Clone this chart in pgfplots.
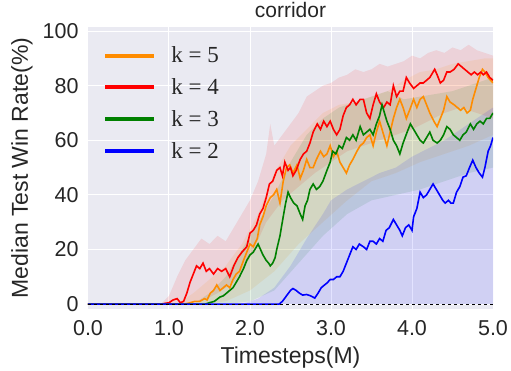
\documentclass[border=0pt]{standalone}
\usepackage{fontspec}
\setmainfont{Liberation Sans}
\newfontfamily\legfont{Liberation Serif}
\usepackage{pgfplots}
\pgfplotsset{compat=1.18}
\definecolor{bgc}{RGB}{234,234,242}
\definecolor{dorange}{RGB}{255,140,0}
\definecolor{dgreen}{RGB}{0,128,0}
\definecolor{tcol}{RGB}{38,38,38}
\begin{document}
\begin{tikzpicture}
\begin{axis}[
  scale only axis, width=405pt, height=282pt,
  xmin=0, xmax=5, ymin=-1.8, ymax=101.5,
  axis background/.style={fill=bgc},
  axis line style={draw=none},
  major tick length=0pt,
  grid=major, grid style={white, line width=1pt},
  xtick={0,1,2,3,4,5}, xticklabels={0.0,1.0,2.0,3.0,4.0,5.0},
  ytick={0,20,40,60,80,100}, yticklabels={0,20,40,60,80,100},
  tick label style={font=\fontsize{21.5}{25}\selectfont, text=tcol},
  xticklabel style={yshift=-8pt},
  yticklabel style={xshift=-6pt},
  xlabel={Timesteps(M)}, ylabel={Median Test Win Rate(\%)},
  xlabel style={at={(axis description cs:0.5,-0.172)}, anchor=center, font=\fontsize{23}{27}\selectfont, text=tcol},
  ylabel style={at={(axis description cs:-0.163,0.5)}, anchor=center, font=\fontsize{23}{27}\selectfont, text=tcol},
  title={corridor}, title style={font=\fontsize{21}{25}\selectfont, text=tcol, yshift=0pt},
  legend style={draw=none, fill=none, at={(axis description cs:0.03,0.944)}, anchor=north west,
    font=\legfont\fontsize{23}{27}\selectfont, row sep=10.3pt, column sep=13pt, text=tcol},
  legend cell align=left,
  legend image code/.code={\draw[#1, line width=4pt] (0pt,0pt) -- (49pt,0pt);},
]
\coordinate (ll) at (rel axis cs:0,0);
\coordinate (ur) at (rel axis cs:1,1);
% bands
\addplot[forget plot, draw=none, fill=red, fill opacity=0.1] coordinates {
(0.9,0)(1.0,3)(1.1,10)(1.2,16)(1.3,20)(1.4,24)(1.5,22)(1.6,25)(1.7,23)(1.8,28)(1.9,33)(2.0,38)(2.1,45)(2.2,55)(2.25,66)(2.3,58)(2.4,62)(2.5,66)(2.6,70)(2.7,76)(2.8,78)(2.9,80)(3.0,81)(3.1,83)(3.2,84)(3.3,86)(3.4,85)(3.5,86)(3.6,88)(3.7,87)(3.8,88)(3.9,89)(4.0,91)(4.1,90)(4.2,92)(4.3,93)(4.4,92)(4.5,94)(4.6,93)(4.7,95)(4.8,93)(4.9,92)(5.0,91)
(5.0,68)(4.8,70)(4.6,72)(4.4,70)(4.2,67)(4.0,64)(3.8,62)(3.6,60)(3.4,58)(3.2,56)(3.0,52)(2.8,48)(2.6,43)(2.4,38)(2.2,30)(2.0,17)(1.8,8)(1.6,4)(1.4,1)(1.2,0)(1.0,0)(0.9,0)} -- cycle;
\addplot[forget plot, draw=none, fill=dorange, fill opacity=0.1] coordinates {
(1.1,0)(1.3,4)(1.5,9)(1.7,14)(1.9,22)(2.1,33)(2.3,48)(2.5,58)(2.7,64)(2.9,70)(3.1,73)(3.3,74)(3.5,76)(3.7,78)(3.9,82)(4.1,85)(4.3,86)(4.5,88)(4.7,89)(4.9,90)(5.0,90)
(5.0,62)(4.7,58)(4.4,55)(4.1,52)(3.8,48)(3.5,45)(3.2,38)(2.9,30)(2.6,22)(2.3,12)(2.0,5)(1.7,1)(1.4,0)(1.1,0)} -- cycle;
\addplot[forget plot, draw=none, fill=dgreen, fill opacity=0.1] coordinates {
(1.3,0)(1.5,4)(1.7,10)(1.9,20)(2.1,30)(2.3,40)(2.5,52)(2.7,62)(2.9,68)(3.1,72)(3.3,74)(3.5,76)(3.7,78)(3.9,75)(4.1,76)(4.3,77)(4.5,78)(4.7,80)(4.9,82)(5.0,83)
(5.0,50)(4.7,48)(4.4,45)(4.1,42)(3.8,40)(3.5,38)(3.2,33)(2.9,25)(2.6,15)(2.3,5)(2.0,1)(1.7,0)(1.3,0)} -- cycle;
\addplot[forget plot, draw=none, fill=blue, fill opacity=0.11] coordinates {
(1.9,0)(2.1,2)(2.3,6)(2.5,14)(2.7,24)(2.9,33)(3.0,38)(3.2,42)(3.4,45)(3.6,48)(3.8,50)(4.0,54)(4.2,57)(4.4,60)(4.6,64)(4.8,68)(5.0,72)(5.0,0)} -- cycle;
% medians
\addplot[dorange, line width=1.6pt] coordinates {
(0,0)(1.2,0)(1.26,0.5)(1.32,1)(1.38,1)(1.44,2)(1.47,1.5)(1.51,4)(1.55,5)(1.59,7)(1.63,5)(1.67,6)(1.71,7)(1.75,6)(1.79,9)(1.83,11)(1.87,12)(1.92,16)(1.96,19)(2.00,22)(2.04,21)(2.09,24)(2.12,29)(2.16,32)(2.20,36)(2.25,39)(2.29,40)(2.33,42)(2.37,37)(2.41,45)(2.45,50)(2.49,51)(2.53,48)(2.58,51)(2.62,46)(2.66,49)(2.70,53)(2.74,50)(2.78,50)(2.82,53)(2.87,56)(2.91,54)(2.95,55)(2.99,58)(3.03,54)(3.07,56)(3.11,52)(3.15,50)(3.19,48)(3.23,51)(3.27,53)(3.32,56)(3.36,58)(3.40,59)(3.44,61)(3.48,62)(3.52,58)(3.56,63)(3.60,67)(3.65,62)(3.69,58)(3.73,63)(3.77,68)(3.81,72)(3.85,75)(3.89,72)(3.93,68)(3.97,71)(4.02,75)(4.06,72)(4.10,75)(4.14,76)(4.18,73)(4.22,70)(4.27,67)(4.31,65)(4.35,68)(4.39,71)(4.43,76)(4.47,74)(4.52,73)(4.56,72)(4.60,71)(4.64,72)(4.68,70)(4.72,71)(4.75,75)(4.79,79)(4.83,83)(4.87,86)(4.90,85)(4.94,83)(4.97,82)(5.0,81)};
\addlegendentry{k = 5}
\addplot[red, line width=1.6pt] coordinates {
(0,0)(0.9,0)(1.0,0.5)(1.05,1.5)(1.1,2)(1.14,0.5)(1.18,1)(1.22,4)(1.26,8)(1.30,11)(1.34,14)(1.38,13)(1.42,15)(1.46,12)(1.50,13)(1.55,11)(1.60,13)(1.65,12)(1.70,13)(1.75,10)(1.80,14)(1.85,17)(1.90,19)(1.96,21)(2.00,26)(2.04,27)(2.08,29)(2.12,33)(2.16,35)(2.20,39)(2.24,44)(2.28,45)(2.33,49)(2.37,50)(2.40,47)(2.43,52)(2.47,49)(2.50,50)(2.53,47)(2.57,49)(2.62,53)(2.66,55)(2.70,56)(2.74,59)(2.78,63)(2.83,66)(2.87,64)(2.91,67)(2.95,65)(2.99,67)(3.03,64)(3.07,62)(3.11,64)(3.15,69)(3.19,72)(3.23,73)(3.27,75)(3.31,73)(3.36,75)(3.40,75)(3.44,70)(3.48,68)(3.52,73)(3.56,77)(3.60,74)(3.65,72)(3.69,74)(3.73,73)(3.77,80)(3.81,76)(3.85,78)(3.89,78)(3.93,83)(3.97,81)(4.02,79)(4.06,80)(4.10,81)(4.14,81)(4.18,82)(4.22,83)(4.28,86)(4.31,84)(4.35,81)(4.39,82)(4.43,85)(4.47,85)(4.52,86)(4.57,88)(4.61,87)(4.65,86)(4.69,85)(4.73,84)(4.77,85)(4.81,84)(4.85,85)(4.88,84)(4.92,85)(4.96,83)(5.0,82)};
\addlegendentry{k = 4}
\addplot[dgreen, line width=1.6pt] coordinates {
(0,0)(1.45,0)(1.5,0.5)(1.56,1)(1.63,2.6)(1.67,3)(1.71,4)(1.75,5)(1.79,6)(1.83,8)(1.87,10)(1.92,13)(1.96,16)(2.00,18)(2.04,19)(2.08,21)(2.10,22)(2.13,20)(2.16,18)(2.20,16)(2.23,15)(2.25,14)(2.28,15)(2.31,17)(2.33,20)(2.37,25)(2.41,32)(2.44,37)(2.47,41)(2.50,39)(2.54,37)(2.58,36)(2.62,33)(2.65,31)(2.68,36)(2.71,38)(2.74,42)(2.78,44)(2.82,42)(2.86,43)(2.90,45)(2.95,49)(2.99,52)(3.02,56)(3.06,55)(3.10,58)(3.14,57)(3.19,61)(3.23,60)(3.27,62)(3.31,60)(3.36,65)(3.40,62)(3.44,63)(3.48,64)(3.52,62)(3.56,66)(3.60,69)(3.63,73)(3.66,70)(3.69,67)(3.73,64)(3.77,60)(3.81,58)(3.85,55)(3.89,59)(3.94,63)(3.98,66)(4.02,64)(4.06,62)(4.10,60)(4.14,59)(4.18,61)(4.22,63)(4.26,60)(4.31,59)(4.35,60)(4.39,62)(4.43,65)(4.47,64)(4.51,62)(4.55,61)(4.59,60)(4.63,62)(4.67,63)(4.72,66)(4.76,64)(4.80,66)(4.84,67)(4.88,66)(4.92,68)(4.96,68)(5.0,70)};
\addlegendentry{k = 3}
\addplot[blue, line width=1.6pt] coordinates {
(0,0)(2.36,0)(2.40,1)(2.45,3)(2.50,5)(2.53,5.7)(2.57,5)(2.61,4)(2.65,3.3)(2.70,3.5)(2.75,3)(2.80,2.2)(2.84,4)(2.88,6)(2.92,7)(2.95,7.7)(2.99,9)(3.03,9)(3.07,10)(3.11,10)(3.15,12)(3.19,15)(3.23,18)(3.27,21)(3.31,20)(3.35,22)(3.40,21)(3.44,20)(3.48,23)(3.52,23)(3.56,22)(3.60,24)(3.64,23)(3.68,27)(3.72,28)(3.77,31)(3.81,29)(3.85,27)(3.88,25)(3.92,28)(3.96,29)(4.00,27)(4.02,32)(4.06,35)(4.10,41)(4.14,39)(4.18,40)(4.22,42)(4.26,44)(4.30,42)(4.34,40)(4.38,38)(4.41,37)(4.45,38)(4.48,37)(4.51,37)(4.55,41)(4.59,43)(4.63,46.5)(4.67,47)(4.71,50)(4.75,52.7)(4.79,50)(4.83,48)(4.87,46.5)(4.90,50)(4.94,56)(4.97,58)(5.0,61)};
\addlegendentry{k = 2}
\addplot[forget plot, black, dashed, line width=0.7pt] coordinates {(0,0)(5,0)};
\end{axis}
\pgfresetboundingbox
\path ([shift={(-88pt,-62pt)}]ll) rectangle ([shift={(18pt,27pt)}]ur);
\end{tikzpicture}
\end{document}
